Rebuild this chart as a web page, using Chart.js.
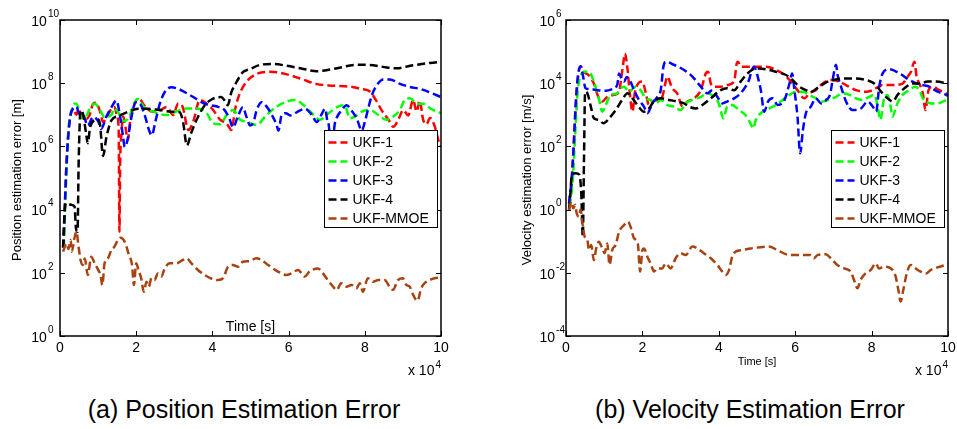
<!DOCTYPE html>
<html>
<head>
<meta charset="utf-8">
<script src="https://cdn.jsdelivr.net/npm/chart.js@4"></script>
<style>
  body { margin: 0; background: #fff; }
  #wrap { position: relative; width: 957px; height: 429px; overflow: hidden; }
  canvas { position: absolute; top: 0; }
  .cap { position: absolute; top: 395px; font: 25px "Liberation Sans", Arial, sans-serif;
         transform: translateX(-50%); white-space: nowrap; color: #000; }
</style>
</head>
<body>
<div id="wrap">
  <canvas id="posChart" width="480" height="390" style="left:0"></canvas>
  <canvas id="velChart" width="477" height="390" style="left:480px"></canvas>
  <div class="cap" style="left:244px">(a) Position Estimation Error</div>
  <div class="cap" style="left:750px">(b) Velocity Estimation Error</div>
</div>
<script>
// Courbes : [temps (x 10^4 s), log10 de l'erreur]
const seriesLabels = ['UKF-1', 'UKF-2', 'UKF-3', 'UKF-4', 'UKF-MMOE'];
const seriesColors = ['#ff0000', '#00ff00', '#0000ff', '#000000', '#a8420f'];
const timeTicks = [0, 2, 4, 6, 8, 10];
const posTickExps = [0, 2, 4, 6, 8, 10];
const velTickExps = [-4, -2, 0, 2, 4, 6];

// GRAPHE (a) : erreur de position [m]
const posUKF1 = [[0.09,2.8],[0.13,4.2],[0.17,5.5],[0.25,6.8],[0.34,7.2],[0.43,7.0],[0.49,7.19],[0.58,6.9],[0.69,6.87],[0.78,7.0],[0.87,7.35],[0.95,7.38],[1.05,7.1],[1.13,6.77],[1.24,6.95],[1.35,7.19],[1.43,7.25],[1.5,6.95],[1.54,6.5],[1.56,3.3],[1.58,5.5],[1.61,6.35],[1.66,6.95],[1.72,6.6],[1.78,6.2],[1.85,6.9],[1.92,7.2],[2.01,7.48],[2.09,7.5],[2.18,7.35],[2.3,7.18],[2.45,7.1],[2.64,7.15],[2.8,7.25],[2.97,6.99],[3.1,7.36],[3.22,7.25],[3.37,6.52],[3.5,6.8],[3.67,7.47],[3.85,7.35],[4.02,7.15],[4.2,6.85],[4.37,6.73],[4.5,6.52],[4.6,7.2],[4.72,7.68],[4.9,8.05],[5.16,8.29],[5.51,8.36],[5.86,8.31],[6.3,8.15],[6.74,7.97],[7.17,7.92],[7.61,7.89],[7.9,7.82],[8.14,7.73],[8.3,7.45],[8.44,7.15],[8.62,6.85],[8.75,6.62],[8.88,6.85],[9.01,7.15],[9.14,6.98],[9.27,7.47],[9.36,7.1],[9.44,7.45],[9.53,6.85],[9.62,6.7],[9.71,6.9],[9.84,6.62],[9.93,6.2],[10,6.0]];
const posUKF2 = [[0.1,2.8],[0.15,4.5],[0.22,6.5],[0.3,7.1],[0.38,7.35],[0.43,7.35],[0.54,7.0],[0.65,6.87],[0.78,7.2],[0.91,7.35],[1.03,7.2],[1.17,6.93],[1.35,7.0],[1.43,7.2],[1.52,7.1],[1.65,6.8],[1.8,6.9],[1.96,7.4],[2.05,7.5],[2.2,7.25],[2.45,7.1],[2.8,6.99],[3.05,7.1],[3.32,7.2],[3.6,7.2],[3.85,7.05],[4.02,6.73],[4.2,6.7],[4.37,6.99],[4.55,7.15],[4.72,6.85],[4.9,6.78],[5.16,6.68],[5.42,6.99],[5.69,7.26],[5.95,7.42],[6.17,7.47],[6.4,7.3],[6.65,7.0],[6.82,6.84],[7.05,7.05],[7.3,7.26],[7.47,7.3],[7.61,6.89],[7.75,6.95],[7.92,7.1],[8.14,7.15],[8.35,7.0],[8.57,6.84],[8.75,6.95],[8.92,7.15],[9.05,7.47],[9.19,7.52],[9.36,7.35],[9.54,7.35],[9.72,7.2],[10,7.05]];
const posUKF3 = [[0.09,2.8],[0.13,4.2],[0.17,5.4],[0.25,6.77],[0.34,7.19],[0.43,7.25],[0.52,7.0],[0.6,7.0],[0.73,6.66],[0.87,6.93],[1.0,6.8],[1.08,6.56],[1.22,6.95],[1.35,7.24],[1.48,7.45],[1.57,7.0],[1.65,6.35],[1.7,5.98],[1.78,6.25],[1.87,6.9],[1.99,7.4],[2.1,7.35],[2.22,7.0],[2.35,6.47],[2.41,6.35],[2.5,6.77],[2.62,7.35],[2.75,7.72],[2.92,7.87],[3.1,7.82],[3.36,7.66],[3.58,7.5],[3.8,7.35],[3.97,7.3],[4.15,7.25],[4.32,7.15],[4.45,6.87],[4.54,6.6],[4.67,6.95],[4.8,7.24],[4.89,6.95],[4.99,6.66],[5.08,6.77],[5.16,7.14],[5.29,7.4],[5.43,7.25],[5.56,7.0],[5.69,6.66],[5.73,6.5],[5.82,7.0],[5.93,7.05],[6.04,6.98],[6.21,7.08],[6.43,7.19],[6.61,7.0],[6.74,6.77],[6.85,6.98],[6.96,7.19],[7.02,6.8],[7.07,6.45],[7.1,3.4],[7.14,5.5],[7.2,6.6],[7.26,6.9],[7.39,7.14],[7.52,7.3],[7.65,7.14],[7.79,6.88],[7.92,6.5],[8.0,6.77],[8.09,7.2],[8.18,7.6],[8.31,7.93],[8.49,8.12],[8.66,8.12],[8.92,7.98],[9.19,7.88],[9.45,7.82],[9.71,7.71],[10,7.56]];
const posUKF4 = [[0.08,2.8],[0.12,3.9],[0.15,4.2],[0.3,4.15],[0.38,4.1],[0.42,3.4],[0.46,3.3],[0.49,5.5],[0.54,7.14],[0.6,7.05],[0.68,6.45],[0.73,6.1],[0.79,6.6],[0.87,6.8],[1.0,6.85],[1.05,6.7],[1.13,5.7],[1.22,6.3],[1.35,6.82],[1.57,6.98],[1.8,7.1],[2.05,7.19],[2.3,7.19],[2.57,7.16],[2.92,7.1],[3.14,7.08],[3.23,6.77],[3.33,6.03],[3.45,6.45],[3.62,6.93],[3.8,7.3],[4.0,7.5],[4.23,7.56],[4.32,7.45],[4.4,7.3],[4.5,7.72],[4.63,8.03],[4.8,8.35],[4.99,8.45],[5.25,8.58],[5.6,8.61],[5.95,8.55],[6.39,8.45],[6.74,8.38],[7.17,8.45],[7.79,8.58],[8.1,8.58],[8.57,8.5],[8.84,8.47],[9.19,8.55],[9.71,8.64],[10,8.68]];
const posMMOE = [[0.08,2.67],[0.17,2.93],[0.22,2.75],[0.28,3.04],[0.31,2.67],[0.38,3.1],[0.43,3.3],[0.49,2.8],[0.54,2.4],[0.6,2.25],[0.65,2.45],[0.73,1.93],[0.82,2.51],[0.91,2.3],[1.0,2.1],[1.07,1.9],[1.11,1.61],[1.17,2.3],[1.26,2.46],[1.35,2.72],[1.43,2.83],[1.52,3.04],[1.59,3.11],[1.7,2.98],[1.8,2.6],[1.89,2.25],[1.94,1.61],[2.0,2.3],[2.06,2.09],[2.13,1.83],[2.2,1.4],[2.27,1.72],[2.33,1.56],[2.4,1.83],[2.48,1.77],[2.57,1.98],[2.66,1.88],[2.75,2.14],[2.88,2.3],[3.05,2.3],[3.23,2.41],[3.32,2.46],[3.45,2.3],[3.62,2.09],[3.8,1.93],[3.97,1.82],[4.15,1.77],[4.28,1.83],[4.41,2.19],[4.54,2.25],[4.67,2.19],[4.8,2.35],[4.98,2.37],[5.15,2.46],[5.28,2.41],[5.46,2.25],[5.72,2.04],[5.94,1.93],[6.07,1.98],[6.25,2.09],[6.42,1.88],[6.55,2.04],[6.77,2.14],[6.9,1.98],[7.03,1.77],[7.17,1.56],[7.26,1.45],[7.38,1.67],[7.52,1.56],[7.65,1.61],[7.78,1.51],[7.87,1.67],[7.95,1.4],[8.08,1.83],[8.22,1.72],[8.35,1.77],[8.52,1.77],[8.65,1.56],[8.74,1.46],[8.87,1.77],[9.0,1.83],[9.09,1.62],[9.18,1.56],[9.27,1.3],[9.38,1.11],[9.48,1.51],[9.57,1.67],[9.7,1.77],[9.83,1.83],[9.97,1.85]];

// GRAPHE (b) : erreur de vitesse [m/s]
const velUKF1 = [[0.08,0.2],[0.15,0.9],[0.22,2.5],[0.3,4.0],[0.38,4.54],[0.47,4.36],[0.6,4.25],[0.73,3.99],[0.86,3.52],[0.95,3.42],[1.08,3.57],[1.26,3.63],[1.39,3.73],[1.45,4.2],[1.5,4.63],[1.54,4.94],[1.61,4.45],[1.67,3.68],[1.74,3.1],[1.8,3.68],[1.89,3.99],[2.0,4.05],[2.09,3.68],[2.17,3.31],[2.26,3.42],[2.39,3.47],[2.52,3.57],[2.6,4.0],[2.65,4.21],[2.78,3.84],[2.91,3.68],[3.05,3.26],[3.18,3.42],[3.35,3.52],[3.53,3.78],[3.66,4.31],[3.72,4.36],[3.79,3.99],[3.87,3.89],[4.05,3.89],[4.22,3.94],[4.4,4.05],[4.47,4.63],[4.5,4.68],[4.58,4.52],[4.7,4.52],[4.97,4.52],[5.24,4.52],[5.5,4.42],[5.72,4.26],[5.89,4.05],[6.06,3.78],[6.24,3.52],[6.37,3.68],[6.54,3.78],[6.72,3.99],[6.94,4.1],[7.16,4.05],[7.33,3.94],[7.59,3.78],[7.85,3.73],[8.03,3.78],[8.29,3.94],[8.55,3.94],[8.81,3.99],[8.94,4.2],[9.03,4.36],[9.12,4.68],[9.18,4.2],[9.25,3.99],[9.34,3.68],[9.41,3.15],[9.49,3.78],[9.6,3.89],[9.77,3.78],[9.95,3.68],[10,3.65]];
const velUKF2 = [[0.1,0.1],[0.18,1.0],[0.25,2.6],[0.31,3.8],[0.38,4.21],[0.47,4.36],[0.6,4.36],[0.73,4.05],[0.86,3.52],[0.95,3.1],[1.04,3.31],[1.17,3.63],[1.34,3.68],[1.43,3.84],[1.52,3.89],[1.65,3.73],[1.82,3.89],[1.95,3.78],[2.09,3.52],[2.22,3.47],[2.35,3.36],[2.48,3.47],[2.65,3.31],[2.83,3.26],[3.0,3.15],[3.13,3.36],[3.31,3.47],[3.53,3.57],[3.7,3.68],[3.87,3.57],[4.0,3.36],[4.12,2.89],[4.22,3.26],[4.35,3.31],[4.53,3.15],[4.7,2.99],[4.83,2.73],[4.9,2.57],[4.97,2.84],[5.15,3.1],[5.32,3.2],[5.5,3.31],[5.67,3.47],[5.85,3.63],[6.02,3.73],[6.2,3.73],[6.37,3.63],[6.54,3.52],[6.72,3.42],[6.85,3.47],[7.07,3.57],[7.24,3.68],[7.42,3.63],[7.59,3.52],[7.77,3.47],[7.94,3.57],[8.07,3.63],[8.16,3.26],[8.23,2.84],[8.32,3.47],[8.42,3.63],[8.49,3.31],[8.55,2.94],[8.64,3.26],[8.81,3.63],[8.99,3.78],[9.14,3.89],[9.25,3.78],[9.34,3.52],[9.42,3.42],[9.56,3.36],[9.73,3.36],[9.95,3.47],[10,3.5]];
const velUKF3 = [[0.08,0.2],[0.15,1.0],[0.21,2.2],[0.25,3.26],[0.31,4.21],[0.38,4.54],[0.45,4.2],[0.51,3.84],[0.65,3.81],[0.82,3.78],[1.04,3.76],[1.21,3.81],[1.34,3.94],[1.39,4.31],[1.45,4.15],[1.52,4.05],[1.59,4.2],[1.69,4.05],[1.78,3.78],[1.91,3.47],[2.04,3.26],[2.13,3.05],[2.26,3.36],[2.39,3.57],[2.48,3.78],[2.55,4.52],[2.61,4.68],[2.83,4.58],[3.09,4.42],[3.31,4.21],[3.53,3.89],[3.7,3.68],[3.83,3.78],[3.96,3.57],[4.09,3.36],[4.22,3.42],[4.4,3.52],[4.57,3.68],[4.7,3.89],[4.79,4.1],[4.85,4.35],[4.92,4.52],[5.0,4.3],[5.06,4.0],[5.1,3.78],[5.19,3.1],[5.28,3.4],[5.41,3.52],[5.54,3.31],[5.72,3.47],[5.85,3.99],[5.92,4.31],[5.98,3.78],[6.06,2.94],[6.13,1.78],[6.2,2.5],[6.28,3.05],[6.41,3.26],[6.54,3.52],[6.68,3.36],[6.81,3.47],[6.91,3.63],[6.98,4.1],[7.07,4.58],[7.11,4.26],[7.2,3.89],[7.33,3.42],[7.5,3.15],[7.72,3.2],[7.9,3.42],[8.03,3.26],[8.12,3.1],[8.2,3.89],[8.29,4.31],[8.46,4.44],[8.73,4.31],[8.99,4.1],[9.16,4.0],[9.34,3.94],[9.51,3.89],[9.73,3.73],[9.95,3.63],[10,3.6]];
const velUKF4 = [[0.08,0.0],[0.12,0.6],[0.15,1.1],[0.25,1.15],[0.35,1.1],[0.4,0.5],[0.44,-0.86],[0.47,1.5],[0.5,3.73],[0.56,3.68],[0.65,3.26],[0.73,2.89],[0.86,2.84],[0.98,2.73],[1.13,2.89],[1.3,3.15],[1.47,3.47],[1.61,3.68],[1.74,3.52],[1.87,3.31],[2.04,3.1],[2.17,3.2],[2.3,3.42],[2.48,3.52],[2.7,3.47],[2.91,3.42],[3.09,3.36],[3.22,3.26],[3.4,3.2],[3.57,3.31],[3.79,3.52],[4.05,3.78],[4.22,3.84],[4.4,3.78],[4.57,4.05],[4.75,4.31],[4.97,4.47],[5.24,4.44],[5.5,4.36],[5.76,4.26],[5.93,4.1],[6.11,3.89],[6.28,3.78],[6.41,3.73],[6.63,3.89],[6.85,4.05],[7.07,4.12],[7.33,4.15],[7.59,4.15],[7.85,4.1],[8.07,3.99],[8.25,3.73],[8.42,3.52],[8.55,3.42],[8.68,3.63],[8.86,3.84],[9.08,3.99],[9.25,3.99],[9.47,4.05],[9.69,4.05],[10,3.99]];
const velMMOE = [[0.08,-0.01],[0.14,0.25],[0.19,0.04],[0.24,0.15],[0.28,-0.12],[0.34,-0.22],[0.38,0.0],[0.43,-0.43],[0.49,-0.86],[0.56,-0.96],[0.6,-1.28],[0.66,-1.12],[0.73,-1.6],[0.79,-1.23],[0.86,-1.02],[0.95,-1.23],[1.01,-1.38],[1.08,-1.07],[1.14,-1.75],[1.21,-1.28],[1.3,-1.12],[1.39,-0.7],[1.52,-0.49],[1.62,-0.38],[1.69,-0.54],[1.78,-0.91],[1.88,-1.07],[1.94,-1.96],[2.0,-1.28],[2.04,-1.23],[2.13,-1.49],[2.23,-1.75],[2.3,-1.96],[2.39,-1.86],[2.52,-1.86],[2.61,-1.7],[2.74,-1.86],[2.87,-1.54],[3.0,-1.38],[3.13,-1.44],[3.31,-1.17],[3.44,-1.23],[3.61,-1.38],[3.79,-1.54],[3.96,-1.75],[4.09,-1.96],[4.18,-2.07],[4.27,-1.91],[4.35,-1.49],[4.44,-1.33],[4.62,-1.28],[4.83,-1.23],[5.1,-1.19],[5.31,-1.17],[5.53,-1.28],[5.75,-1.41],[5.97,-1.44],[6.14,-1.44],[6.4,-1.44],[6.49,-1.54],[6.58,-1.44],[6.8,-1.41],[6.93,-1.54],[7.1,-1.75],[7.28,-1.86],[7.45,-1.96],[7.54,-2.23],[7.63,-2.49],[7.71,-2.23],[7.84,-2.02],[7.98,-1.91],[8.11,-1.7],[8.19,-1.86],[8.32,-1.81],[8.5,-1.86],[8.63,-2.12],[8.7,-2.54],[8.76,-2.91],[8.83,-2.54],[8.92,-2.02],[9.02,-1.75],[9.15,-1.86],[9.28,-1.96],[9.42,-2.02],[9.55,-1.91],[9.72,-1.83],[9.94,-1.75],[10,-1.72]];

const FONT = '"Liberation Sans", Arial, sans-serif';

// Cadre, graduations, etiquettes et legende facon MATLAB
const axesDecor = {
  id: 'axesDecor',
  afterDatasetsDraw(chart, args, o) {
    const { ctx, chartArea: a, scales: { x, y } } = chart;
    ctx.save();
    ctx.fillStyle = '#000';
    ctx.strokeStyle = '#000';
    ctx.lineWidth = 1;
    ctx.setLineDash([]);

    // graduations internes
    ctx.beginPath();
    timeTicks.forEach(v => {
      const px = Math.round(x.getPixelForValue(v)) + 0.5;
      ctx.moveTo(px, a.bottom); ctx.lineTo(px, a.bottom - 5);
      ctx.moveTo(px, a.top); ctx.lineTo(px, a.top + 5);
    });
    o.yExps.forEach(e => {
      const py = Math.round(y.getPixelForValue(Math.pow(10, e))) + 0.5;
      ctx.moveTo(a.left, py); ctx.lineTo(a.left + 5, py);
      ctx.moveTo(a.right, py); ctx.lineTo(a.right - 5, py);
    });
    ctx.stroke();

    // cadre
    ctx.lineWidth = 1.5;
    ctx.strokeRect(Math.round(a.left), Math.round(a.top), Math.round(a.right - a.left), Math.round(a.bottom - a.top));

    // etiquettes x
    ctx.font = '14px ' + FONT;
    ctx.textAlign = 'center';
    ctx.textBaseline = 'middle';
    timeTicks.forEach(v => ctx.fillText(String(v), x.getPixelForValue(v), a.bottom + 12));

    // etiquettes y : 10 puis exposant
    ctx.font = '10px ' + FONT;
    const expW = Math.max(...o.yExps.map(e => ctx.measureText(String(e)).width));
    const baseRight = a.left - 2 - expW;
    o.yExps.forEach(e => {
      const py = y.getPixelForValue(Math.pow(10, e));
      ctx.font = '14px ' + FONT;
      ctx.textAlign = 'right';
      ctx.fillText('10', baseRight, py + 2);
      ctx.font = '10px ' + FONT;
      ctx.textAlign = 'left';
      ctx.fillText(String(e), baseRight + 1, py - 6);
    });

    // facteur x 10^4
    ctx.font = '10px ' + FONT;
    const w4 = ctx.measureText('4').width;
    ctx.textAlign = 'left';
    ctx.fillText('4', a.right - w4, a.bottom + 29);
    ctx.font = '14px ' + FONT;
    ctx.textAlign = 'right';
    ctx.fillText('x 10', a.right - w4 - 1, a.bottom + 35);

    // titre x
    ctx.textAlign = 'center';
    ctx.font = o.timeFont + 'px ' + FONT;
    ctx.fillText('Time [s]', (a.left + a.right) / 2, a.bottom + o.timeDy);

    // titre y
    ctx.save();
    ctx.translate(o.yTitleX, (a.top + a.bottom) / 2 + 2);
    ctx.rotate(-Math.PI / 2);
    ctx.font = '13px ' + FONT;
    ctx.fillText(o.yTitle, 0, 0);
    ctx.restore();

    // legende
    const bw = 113, bh = 97;
    const bx = Math.round(a.right - 4 - bw) + 0.5, by = Math.round(a.top + 110) + 0.5;
    ctx.fillStyle = '#fff';
    ctx.fillRect(bx, by, bw, bh);
    ctx.lineWidth = 1;
    ctx.strokeStyle = '#000';
    ctx.strokeRect(bx, by, bw, bh);
    ctx.font = '14px ' + FONT;
    ctx.textAlign = 'left';
    chart.data.datasets.forEach((ds, i) => {
      const ly = by + 12 + i * 19;
      ctx.strokeStyle = ds.borderColor;
      ctx.lineWidth = ds.borderWidth;
      ctx.setLineDash(ds.borderDash);
      ctx.beginPath();
      ctx.moveTo(bx + 4, ly); ctx.lineTo(bx + 23, ly);
      ctx.stroke();
      ctx.setLineDash([]);
      ctx.fillStyle = '#000';
      ctx.fillText(ds.label, bx + 28, ly + 1);
    });
    ctx.restore();
  }
};

function buildChart(id, series, yMin, yMax, deco) {
  return new Chart(document.getElementById(id), {
    type: 'line',
    data: {
      datasets: series.map((s, i) => ({
        label: seriesLabels[i],
        data: s.map(p => ({ x: p[0], y: Math.pow(10, p[1]) })),
        borderColor: seriesColors[i],
        borderWidth: 2.5,
        borderDash: [8, 4],
        pointRadius: 0,
        fill: false,
        cubicInterpolationMode: 'monotone',
        order: series.length - i
      }))
    },
    options: {
      responsive: false,
      animation: false,
      events: [],
      layout: { padding: deco.pad },
      scales: {
        x: { type: 'linear', min: 0, max: 10, display: false },
        y: { type: 'logarithmic', min: yMin, max: yMax, display: false }
      },
      plugins: {
        legend: { display: false },
        tooltip: { enabled: false },
        axesDecor: deco
      }
    },
    plugins: [axesDecor]
  });
}

buildChart('posChart', [posUKF1, posUKF2, posUKF3, posUKF4, posMMOE], 1, 1e10, {
  pad: { left: 60, top: 20, right: 39, bottom: 54 },
  yExps: posTickExps,
  yTitle: 'Position estimation error [m]',
  yTitleX: 17,
  timeFont: 14,
  timeDy: -9
});

buildChart('velChart', [velUKF1, velUKF2, velUKF3, velUKF4, velMMOE], 1e-4, 1e6, {
  pad: { left: 86, top: 20, right: 9, bottom: 54 },
  yExps: velTickExps,
  yTitle: 'Velocity estimation error [m/s]',
  yTitleX: 47,
  timeFont: 11,
  timeDy: 26
});
</script>
</body>
</html>
